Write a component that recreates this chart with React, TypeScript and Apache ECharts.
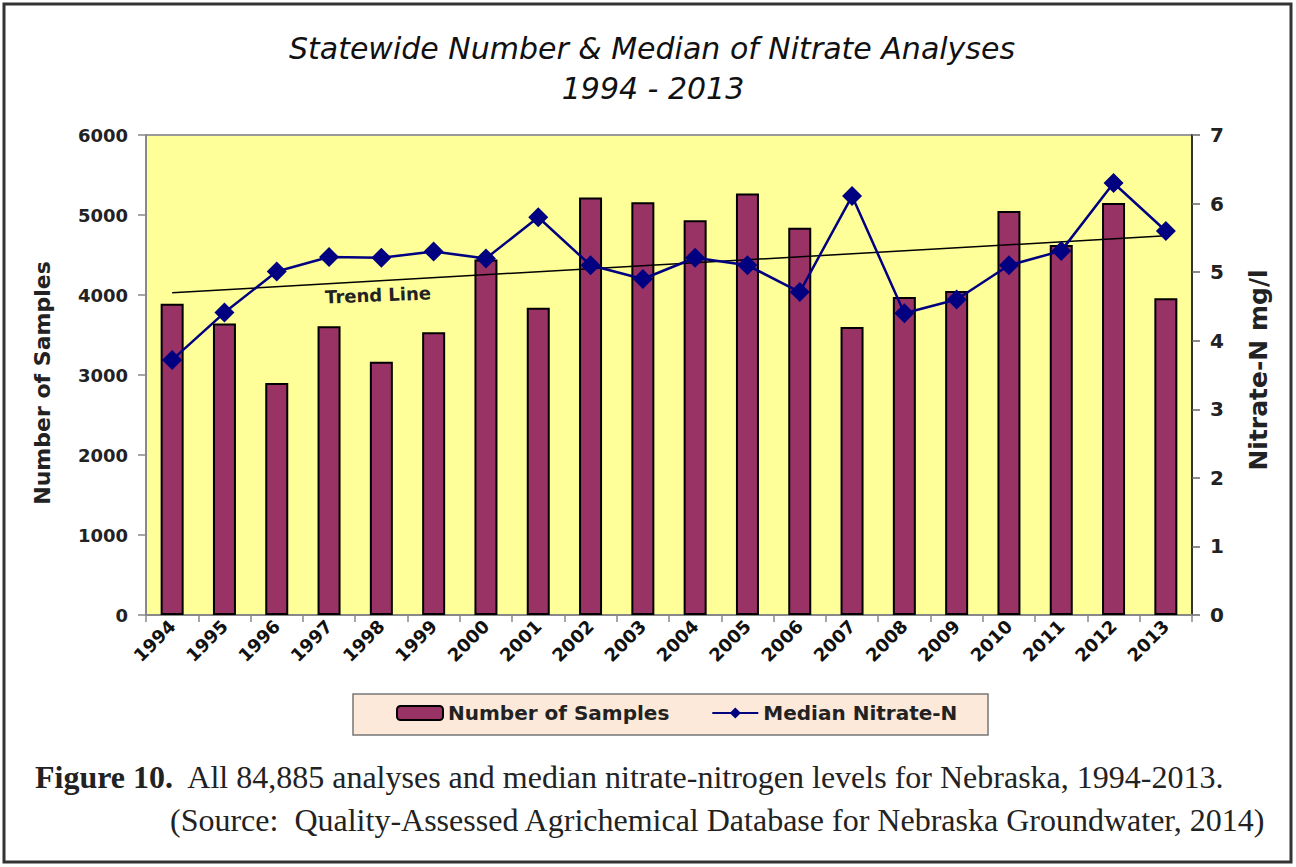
import React, { useEffect, useRef } from "react";
import * as echarts from "echarts";

const years = ["1994","1995","1996","1997","1998","1999","2000","2001","2002","2003","2004","2005","2006","2007","2008","2009","2010","2011","2012","2013"];
const samples = [3890,3645,2900,3610,3165,3535,4445,3840,5220,5160,4935,5270,4840,3600,3975,4050,5050,4625,5150,3960];
const medians = [3.72,4.41,5.01,5.22,5.21,5.30,5.20,5.80,5.10,4.90,5.21,5.10,4.71,6.11,4.40,4.60,5.10,5.31,6.30,5.60];
const trendStart = 4.70;
const trendEnd = 5.53;
const leftTicks = [0, 6000, 1000];
const rightTicks = [0, 7, 1];

const SANS = "DejaVu Sans";
const SERIF = "Liberation Serif";

export default function App() {
  const ref = useRef<HTMLDivElement>(null);
  useEffect(() => {
    document.body.style.margin = "0";
    const chart = echarts.init(ref.current!, null, { renderer: "svg" });
    const option: any = {
      animation: false,
      backgroundColor: "#ffffff",
      grid: { left: 146, top: 135, right: 104, bottom: 252, show: true, backgroundColor: "#FFFF99", borderColor: "#999", borderWidth: 2 },
      xAxis: {
        type: "category",
        data: years,
        boundaryGap: true,
        axisLine: { lineStyle: { color: "#888", width: 2 } },
        axisTick: { show: true, length: 7, lineStyle: { color: "#888", width: 1.5 } },
        axisLabel: { rotate: 45, margin: 8, fontFamily: SANS, fontWeight: "bold", fontSize: 18, color: "#111", interval: 0 },
      },
      yAxis: [
        {
          type: "value", min: leftTicks[0], max: leftTicks[1], interval: leftTicks[2],
          axisLine: { show: true, lineStyle: { color: "#888", width: 2 } },
          axisTick: { show: true, length: 8, lineStyle: { color: "#888", width: 1.5 } },
          axisLabel: { margin: 18, fontFamily: SANS, fontWeight: "bold", fontSize: 18, color: "#222", formatter: (v: number) => String(v) },
          splitLine: { show: false },
        },
        {
          type: "value", min: rightTicks[0], max: rightTicks[1], interval: rightTicks[2], position: "right",
          axisLine: { show: true, lineStyle: { color: "#333", width: 2 } },
          axisTick: { show: true, length: 8, lineStyle: { color: "#666", width: 1.5 } },
          axisLabel: { margin: 18, fontFamily: SANS, fontWeight: "bold", fontSize: 20, color: "#222" },
          splitLine: { show: false },
        },
      ],
      legend: {
        data: ["Number of Samples", "Median Nitrate-N"],
        left: 396, top: 703, padding: 0,
        itemWidth: 46, itemHeight: 14, itemGap: 42,
        textStyle: { fontFamily: SANS, fontSize: 20, fontWeight: 600, color: "#222" },
      },
      series: [
        {
          name: "Number of Samples", type: "bar", yAxisIndex: 0, data: samples, barWidth: 23,
          itemStyle: { color: "#993366", borderColor: "#000", borderWidth: 2 }, z: 1,
        },
        {
          name: "Trend", type: "line", yAxisIndex: 1,
          data: [[years[0], trendStart], [years[years.length - 1], trendEnd]],
          symbol: "none", lineStyle: { color: "#000", width: 1.5 }, z: 3,
        },
        {
          name: "Median Nitrate-N", type: "line", yAxisIndex: 1, data: medians,
          symbol: "diamond", symbolSize: 20,
          itemStyle: { color: "#000080" }, lineStyle: { color: "#000080", width: 2.5 }, z: 4,
        },
      ],
      graphic: [
        { type: "rect", shape: { x: 4, y: 4, width: 1287, height: 858 }, style: { fill: "none", stroke: "#333", lineWidth: 3 }, z: 0 },
        { type: "text", x: 652, y: 48, style: { text: "Statewide Number & Median of Nitrate Analyses", fontFamily: SANS, fontStyle: "italic", fontSize: 30, fill: "#111", align: "center", verticalAlign: "middle" } },
        { type: "text", x: 653, y: 88, style: { text: "1994 - 2013", fontFamily: SANS, fontStyle: "italic", fontSize: 30, fill: "#111", align: "center", verticalAlign: "middle" } },
        { type: "text", x: 42, y: 383, rotation: Math.PI / 2, style: { text: "Number of Samples", fontFamily: SANS, fontWeight: "bold", fontSize: 22, fill: "#222", align: "center", verticalAlign: "middle" } },
        { type: "text", x: 1258, y: 370, rotation: Math.PI / 2, style: { text: "Nitrate-N mg/l", fontFamily: SANS, fontWeight: "bold", fontSize: 25, fill: "#222", align: "center", verticalAlign: "middle" } },
        { type: "text", x: 378, y: 295, rotation: 0.04, z: 10, style: { text: "Trend Line", fontFamily: SANS, fontWeight: "bold", fontSize: 18, fill: "#222", align: "center", verticalAlign: "middle" } },
        { type: "rect", shape: { x: 353, y: 694, width: 635, height: 41 }, style: { fill: "#FDE9D9", stroke: "#777", lineWidth: 1.5 }, z: -1 },
        {
          type: "text", x: 35, y: 777,
          style: {
            text: "{b|Figure 10.}  All 84,885 analyses and median nitrate-nitrogen levels for Nebraska, 1994-2013.",
            fontFamily: SERIF, fontSize: 32, fill: "#222", verticalAlign: "middle",
            rich: { b: { fontFamily: SERIF, fontSize: 32, fontWeight: "bold", fill: "#222" } },
          },
        },
        { type: "text", x: 170, y: 820, style: { text: "(Source:  Quality-Assessed Agrichemical Database for Nebraska Groundwater, 2014)", fontFamily: SERIF, fontSize: 32, fill: "#222", verticalAlign: "middle" } },
      ],
    };
    chart.setOption(option);
    return () => chart.dispose();
  }, []);
  return <div ref={ref} style={{ width: 1296, height: 867 }} />;
}
